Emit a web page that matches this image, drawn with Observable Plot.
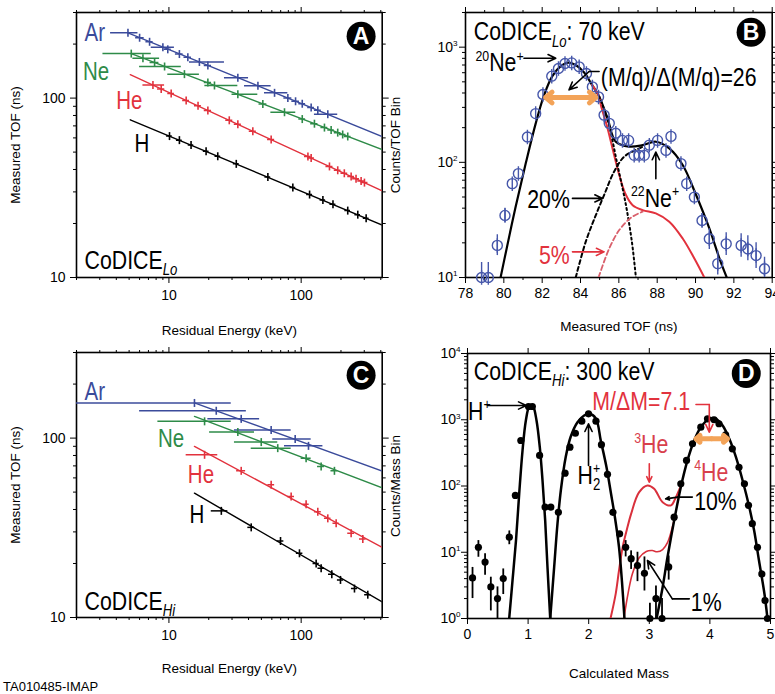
<!DOCTYPE html>
<html><head><meta charset="utf-8">
<script src="https://cdn.jsdelivr.net/npm/d3@7"></script>
<script src="https://cdn.jsdelivr.net/npm/@observablehq/plot@0.6"></script>
<style>
body{margin:0;background:#fff;}
#wrap{position:relative;width:775px;height:694px;overflow:hidden;background:#fff;}
#wrap svg{position:absolute;}
.tag{position:absolute;left:3px;top:679px;font:13px 'Liberation Sans',Arial,sans-serif;color:#000;}
</style></head><body><div id="wrap"><div class="tag">TA010485-IMAP</div></div>
<script>
const BLUE="#3b4b9b", GREEN="#2e8b48", RED="#e2323d", ORANGE="#f3a358", CIRC="#4657aa", HE="#d8404c";
const NARROW="'Liberation Sans Narrow','Arial Narrow','Liberation Sans',Arial,sans-serif";
const SANS="'Liberation Sans',Arial,Helvetica,sans-serif";

// ===== Panels A & C : TOF vs residual energy (E keV, TOF ns, Elo, Ehi)
const energyTicks=[10,100];
const energyMinor=[2,3,4,5,6,7,8,9,20,30,40,50,60,70,80,90,200,300,400];
const tofTicks=[10,100];
const tofMinor=[20,30,40,50,60,70,80,90,200,300];

const aAr=[[4.9,231,3.62,5.83],[6.0,217,5.6,6.5],[7.14,206,6.7,7.6],[9.0,192,7.35,11.0],[9.8,187,9.2,10.4],[12.0,176,11.2,12.8],[13.9,169,13.0,14.8],[17.0,159,14.3,26.3],[19.7,152,18.5,21],[33.2,130,26.3,40],[47.1,117,37.3,59.3],[62.9,107,52.8,79.3],[79.3,100,74,85],[90.7,96,85,97],[101.9,93,96,108],[119,88.6,112,126],[133.6,85.5,126,142],[159,81.3,126,189]];
const aNe=[[5.19,177,3.17,7.35],[6.36,167,5.34,8.5],[7.79,158,7.2,8.4],[9.27,150,6.0,12.4],[13.1,136,9.8,17],[19.7,122,18.5,21],[22.1,117.6,18.7,33.2],[33.2,105,30,47],[51.3,92.7,48,55],[74.8,83.4,59,91],[101.9,76.4,96,108],[126,72,118,134],[150,68.5,141,159],[168.5,66.3,159,178],[189,64.2,178,200],[206,62.7,195,218],[225,61.1,212,238]];
const aHe=[[7.57,118.2,6.36,9.27],[8.74,112.5,8.2,9.3],[10.4,106.1,9.8,11],[13.5,97,12.7,14.3],[16.6,90.6,15.6,17.6],[19.7,85.4,18.5,21],[28.6,75.2,26.9,30.4],[33.2,71.5,31.2,35.3],[43.1,65.4,40.5,45.8],[59.3,58.7,55.7,63],[112.5,47.2,106,119],[119,46.3,112,126],[163.7,41.6,154,174],[189,39.6,178,200],[212,38.1,200,225],[238.7,36.6,225,253],[260,35.5,245,276],[284,34.5,268,301],[301,33.8,284,320]];
const aH=[[10.1,61.4,9.6,10.6],[12.0,58.3,11.4,12.6],[14.7,54.7,14.0,15.4],[19.1,50.5,18.2,20.1],[23.4,47.4,22.3,24.6],[32.3,43.0,30.7,34],[56.0,36.3,53.2,58.8],[86.5,31.7,82.2,91],[115.8,29.0,110,122],[146,27.0,139,153],[174,25.6,165,183],[225,23.6,214,236],[268,22.4,255,281],[310,21.4,295,326]];
const aFitAr=[[4.9,231],[410,61.1]], aFitNe=[[5.19,177],[410,51.6]], aFitHe=[[5.1,135],[410,30.4]], aFitH=[[5.1,75.7],[410,19.6]];
const aLabels=[{t:"Ar",x:2.30,y:209,c:BLUE},{t:"Ne",x:2.24,y:126.6,c:GREEN},{t:"He",x:4.0,y:86.8,c:RED},{t:"H",x:5.5,y:49.9,c:"black"}];
const aTitle=[{t:"CoDICE_i{Lo}",x:2.30,y:11.2}];
const aLetter=[{t:"A",x:284,y:221}];

const cAr=[[15.6,157,2,29.6],[22.8,142,6.0,38.5],[35.2,128,19.7,48.5],[59.3,111,31.3,84],[90.1,99,61,119],[113.6,90.5,74.8,146]];
const cNe=[[18.6,124,8.25,29.6],[33.2,108,20.3,44.4],[49.9,95,31.3,66.5],[66.5,87.9,41.9,84],[109,77.3,100,119],[141.6,69.5,133,150],[178.5,65.7,168,189]];
const cHe=[[18.6,80.7,13.5,23.4],[35.2,65.7,32.5,38],[59.3,54.9,56,63],[84,47.2,79,89],[109,42.8,103,115],[133.6,38.9,126,142],[159,35.7,150,168],[183.9,33.5,174,194],[238.7,29.5,225,253],[292.5,27.4,276,310]];
const cH=[[24.9,39.3,20.9,27.9],[41.9,31.8,39.5,44.4],[69.8,26.7,66,74],[97.1,22.8,92,103],[129.8,20.0,123,137],[141.6,18.8,134,150],[170.5,17.4,161,180],[198.3,16.2,188,209],[253,14.5,240,267],[319,13.4,302,337]];
const cFitAr=[[15.6,157],[410,65.4]], cFitNe=[[15.6,132],[410,52.8]], cFitHe=[[15.6,89.9],[410,24.6]], cFitH=[[15.6,49.3],[410,12.2]];
const cLabels=[{t:"Ar",x:2.30,y:163.7,c:BLUE},{t:"Ne",x:8.26,y:88.7,c:GREEN},{t:"He",x:13.9,y:56.5,c:RED},{t:"H",x:14.3,y:33.8,c:"black"}];
const cTitle=[{t:"CoDICE_i{Hi}",x:2.30,y:11.0}];
const cLetter=[{t:"C",x:284,y:224}];

// ===== Panel B : counts vs measured TOF
const tofBTicks=[78,80,82,84,86,88,90,92,94];
const tofBMinor=[79,81,83,85,87,89,91,93];
const countTicksB=[10,100,1000];
const countMinorB=[20,30,40,50,60,70,80,90,200,300,400,500,600,700,800,900,2000];
const bCounts=[[78.84,10],[79.19,10],[79.66,19],[80.06,34.6],[80.44,65.3],[80.76,79.8],[81.23,166],[81.66,265],[82.04,388],[82.5,560],[82.85,653],[83.19,721],[83.54,730],[83.93,675],[84.31,590],[84.62,452],[84.94,370],[85.23,257],[85.5,218],[85.84,179],[86.19,155],[86.51,155],[86.8,115],[87.06,115],[87.33,115],[87.59,141],[88.02,155],[88.46,127],[88.72,168],[89.24,97.5],[89.54,65.3],[89.94,49.9],[90.34,31.3],[90.72,21.7],[91.16,13.2],[91.6,19.6],[92.38,19.0],[92.73,17.7],[93.16,15.5],[93.6,11.9]];
const bErr=[[78.84,9,13.5],[79.19,9,13.5],[79.66,15.5,23.5],[80.06,30,40],[90.34,27,36],[90.72,17.5,26.5],[91.16,10.5,17],[91.6,15.5,24.5],[92.38,15,24],[92.73,14,23],[93.16,12,20],[93.6,9.5,15]];
const bTotal=[[79.83,10],[80.09,16.1],[80.61,40.8],[81.14,97.5],[81.66,217],[82.1,383],[82.53,560],[83.0,690],[83.35,735],[83.75,700],[84.2,600],[84.6,470],[84.97,373],[85.41,241],[85.84,151],[86.54,137],[87.24,141],[87.93,151],[88.63,132],[89.33,94.8],[90.03,52],[90.72,26.7],[91.25,14.6],[91.63,10]];
const bRed5=[[84.6,470],[84.97,373],[85.06,315],[85.41,198],[85.67,132],[86.02,77.6],[86.37,52],[86.72,42.5],[87.24,38.5],[87.93,36],[88.63,30.5],[89.33,21.8],[89.94,14.6],[90.46,10]];
const bNe20=[[84.97,373],[85.41,235],[85.93,94.8],[86.37,42.5],[86.68,20.4],[86.89,10]];
const bNe22at20=[[83.75,10],[84.27,20.4],[84.8,34.8],[85.23,52],[85.75,83],[86.28,112],[86.89,128],[87.3,138]];
const bNe22at5=[[84.94,10],[85.5,17.9],[86.02,25.8],[86.63,33],[87.24,37.3]];
const bText=[{t:"CoDICE_i{Lo}: 70 keV",x:78.43,y:1143,c:"black"},{t:"^{20}Ne^{+}",x:78.52,y:622,c:"black"},{t:"(M/q)/Δ(M/q)=26",x:85.06,y:464,c:"black"},{t:"20%",x:81.22,y:39.8,c:"black"},{t:"^{22}Ne^{+}",x:86.63,y:41.2,c:"black"},{t:"5%",x:81.83,y:13.2,c:RED}];
const bArrows=[{x1:81.05,y1:802,x2:82.71,y2:802,c:"black"},{x1:84.45,y1:615,x2:83.4,y2:426,c:"black"},{x1:83.58,y1:48.6,x2:85.15,y2:48.6,c:"black"},{x1:87.93,y1:72,x2:87.93,y2:123,c:"black"},{x1:83.58,y1:16.7,x2:85.23,y2:16.7,c:RED}];
const bLeader=[[84.97,615],[84.45,615]];
const bWidth=[{x1:83.49,x2:82.18,y:366},{x1:83.49,x2:84.8,y:366}];
const bLetter=[{t:"B",x:92.9,y:1349}];

// ===== Panel D : counts vs calculated mass
const massTicks=[0,1,2,3,4,5];
const countTicksD=[1,10,100,1000,10000];
const countMinorD=[2,3,4,5,6,7,8,9,20,30,40,50,60,70,80,90,200,300,400,500,600,700,800,900,2000,3000,4000,5000,6000,7000,8000,9000];
const dCounts=[[0.083,4.1],[0.18,11.9],[0.29,7.1],[0.385,3.0],[0.495,2.0],[0.59,4.0],[0.69,16.9],[0.79,72],[0.88,486],[1.007,1585],[1.07,1585],[1.19,289],[1.28,48],[1.375,48],[1.5,40],[1.61,156],[1.69,385],[1.78,626],[1.886,951],[1.997,1230],[2.12,951],[2.21,420],[2.31,150],[2.4,40],[2.51,19],[2.61,11.9],[2.7,8.0],[2.805,6.3],[2.92,4.8],[3.01,1],[3.11,2.0],[3.21,1],[3.32,6.0],[3.41,33.8],[3.52,108],[3.614,243],[3.713,434],[3.85,772],[3.96,1033],[4.07,1000],[4.15,870],[4.26,590],[4.37,364],[4.48,192],[4.57,108],[4.637,51],[4.7,27],[4.785,11.9],[4.857,4.7],[4.91,1.87],[4.95,1]];
const dErr=[[0.083,2.0,5.9],[0.18,8.4,15],[0.29,4.5,9.5],[0.385,1.3,4.2],[0.495,0.9,3.0],[0.59,2.3,5.6],[0.69,13,21],[2.61,8.5,15],[2.7,5.5,10.5],[2.805,3.6,10],[2.92,2.6,8.5],[3.01,0.9,1.7],[3.11,0.9,3.1],[3.21,0.9,2.0],[3.32,3.8,8.8]];
const dH=[[0.688,1],[0.743,3.75],[0.8,15],[0.853,76],[0.908,343],[0.963,975],[1.018,1600],[1.05,1650],[1.084,1585],[1.139,975],[1.193,385],[1.238,121],[1.282,30],[1.32,5.95],[1.365,1]];
const dH2=[[1.365,1],[1.43,5.95],[1.485,27],[1.54,85.6],[1.62,272],[1.7,545],[1.815,918],[1.925,1159],[2.008,1230],[2.117,1050],[2.2,480],[2.29,200],[2.37,75],[2.43,35],[2.5,12],[2.55,3.5],[2.59,1]];
const dHe4=[[3.12,1],[3.22,2.97],[3.3,8.4],[3.41,30],[3.52,96],[3.63,243],[3.74,486],[3.85,772],[3.99,1033],[4.1,1033],[4.21,819],[4.32,515],[4.43,272],[4.54,121],[4.65,48],[4.73,21.3],[4.81,7.5],[4.9,2.36],[4.95,1]];
const dHe3at10=[[2.36,1],[2.447,2.4],[2.5,5.3],[2.56,11.9],[2.63,22],[2.7,38],[2.83,80],[2.97,102],[3.08,91],[3.22,57],[3.36,51],[3.42,62],[3.52,100]];
const dHe3at1=[[2.58,1],[2.65,2.4],[2.72,4.7],[2.83,8.2],[2.95,10.3],[3.05,10.6],[3.13,10.2],[3.22,11],[3.3,14],[3.37,22],[3.41,31]];
const dText=[{t:"CoDICE_i{Hi}: 300 keV",x:0.104,y:3954,c:"black"},{t:"H^{+}",x:0.01,y:1000,c:"black"},{t:"H_{2}^<{+}",x:1.815,y:108,c:"black"},{t:"M/ΔM=7.1",x:2.06,y:1393,c:RED},{t:"^{3}He",x:2.75,y:313,c:HE},{t:"^{4}He",x:3.74,y:121,c:HE},{t:"10%",x:3.74,y:42.7,c:"black"},{t:"1%",x:3.685,y:1.32,c:"black"}];
const dArrows=[{x1:0.33,y1:1641,x2:0.97,y2:1641,c:"black"},{x1:1.997,y1:204,x2:1.997,y2:869,c:"black"},{x1:3.99,y1:1700,x2:3.99,y2:649,c:RED},{x1:3.0,y1:216,x2:3.0,y2:114,c:RED},{x1:3.47,y1:68,x2:3.27,y2:64,c:"black"},{x1:3.38,y1:1.98,x2:2.97,y2:7.5,c:"black"}];
const dLeaders=[{p:[[3.77,1700],[3.99,1700]],c:RED},{p:[[3.71,68],[3.47,68]],c:"black"},{p:[[3.66,1.98],[3.38,1.98]],c:"black"}];
const dWidth=[{x1:4.03,x2:3.77,y:515},{x1:4.03,x2:4.29,y:515}];
const dLetter=[{t:"D",x:4.6,y:4990}];

// ===== helpers
const STYLE={fontFamily:SANS,fontSize:"14px",background:"none",overflow:"visible",color:"black"};
const vtick={draw(ctx,size){const r=Math.sqrt(size/Math.PI);ctx.moveTo(0,-r);ctx.lineTo(0,r);}};
const phi={draw(ctx,size){const r=Math.sqrt(size/Math.PI);ctx.moveTo(r,0);ctx.arc(0,0,r,0,2*Math.PI);ctx.moveTo(0,-r*1.45);ctx.lineTo(0,r*1.45);}};
const xy={x:d=>d[0],y:d=>d[1]};
const none=()=>"";
const pow10=d=>"10^{"+Math.round(Math.log10(d))+"}";

function frameAxes(xMaj,xMin,yMaj,yMin,xFmt,yFmt,xPad,yPad){
  const o={label:null,fontSize:14};
  const m=[
    Plot.axisX(xMaj,{anchor:"bottom",tickSize:6,tickPadding:xPad,tickFormat:xFmt,...o}),
    Plot.axisX(xMaj,{anchor:"top",tickSize:6,tickFormat:none,...o}),
    Plot.axisY(yMaj,{anchor:"left",tickSize:6,tickPadding:yPad,tickFormat:yFmt,...o}),
    Plot.axisY(yMaj,{anchor:"right",tickSize:6,tickFormat:none,...o}),
    Plot.axisY(yMin,{anchor:"left",tickSize:3,tickFormat:none,...o}),
    Plot.axisY(yMin,{anchor:"right",tickSize:3,tickFormat:none,...o})
  ];
  if(xMin.length){m.push(Plot.axisX(xMin,{anchor:"bottom",tickSize:3,tickFormat:none,...o}),Plot.axisX(xMin,{anchor:"top",tickSize:3,tickFormat:none,...o}));}
  m.push(Plot.frame({strokeWidth:1.6}));
  return m;
}
function species(rows,fit,color){
  const r=rows.map(([e,t,lo,hi])=>({e,t,lo,hi}));
  return [
    Plot.line(fit,{...xy,stroke:color,strokeWidth:1.4,clip:true}),
    Plot.ruleY(r,{y:"t",x1:"lo",x2:"hi",stroke:color,strokeWidth:1.5,clip:true}),
    Plot.dot(r,{x:"e",y:"t",r:4,symbol:vtick,stroke:color,fill:"none",strokeWidth:1.6})
  ];
}
function letter(d){
  return [Plot.dot(d,{x:"x",y:"y",r:14.5,fill:"black"}),
          Plot.text(d,{x:"x",y:"y",text:"t",fill:"white",fontSize:23,fontFamily:SANS,fontWeight:"bold"})];
}
function bigText(d,size){
  return Plot.text(d,{x:"x",y:"y",text:"t",fill:d=>d.c||"black",fontSize:size,fontFamily:NARROW,textAnchor:"start",lineAnchor:"bottom"});
}
function titles(xt,yt,xdy,ydx){
  return [Plot.text([xt],{frameAnchor:"bottom",dy:xdy,fontSize:13.5,fontFamily:SANS,lineAnchor:"middle",textAnchor:"middle"}),
          Plot.text([yt],{frameAnchor:"left",dx:ydx,rotate:-90,fontSize:13.5,fontFamily:SANS,lineAnchor:"middle",textAnchor:"middle"})];
}
function richify(svg){
  svg.querySelectorAll("text").forEach(el=>{
    const s=el.textContent;
    if(!/(\^<?|_i?)\{/.test(s))return;
    const F=parseFloat(getComputedStyle(el).fontSize)||14;
    const re=/(\^<|\^|_i|_)\{([^}]*)\}/g;const segs=[];let last=0,m;
    while((m=re.exec(s))){if(m.index>last)segs.push({t:s.slice(last,m.index),k:""});segs.push({t:m[2],k:m[1]});last=re.lastIndex;}
    if(last<s.length)segs.push({t:s.slice(last),k:""});
    while(el.firstChild)el.removeChild(el.firstChild);
    let shift=0,prevW=0;
    for(const g of segs){
      const ts=document.createElementNS("http://www.w3.org/2000/svg","tspan");
      let sh=0,size=F;
      if(g.k.startsWith("^")){sh=-0.4*F;size=0.58*F;}
      else if(g.k.startsWith("_")){sh=0.24*F;size=0.62*F;}
      if(g.k==="_i")ts.setAttribute("font-style","italic");
      ts.setAttribute("font-size",size);
      ts.setAttribute("dy",sh-shift);
      if(g.k==="^<")ts.setAttribute("dx",-prevW);
      shift=sh;ts.textContent=g.t;el.appendChild(ts);
      prevW=g.k.startsWith("_")?ts.getComputedTextLength():0;
    }
  });
}
// condense the big annotation texts (Helvetica-Narrow look)
function condense(svg){
  svg.querySelectorAll("text").forEach(el=>{
    if(!getComputedStyle(el).fontFamily.includes("Narrow"))return;
    const tr=el.getAttribute("transform");
    if(tr) el.setAttribute("transform",tr+" scale(0.82,1)");
    else{const x=+el.getAttribute("x")||0;el.setAttribute("transform",`translate(${x},0) scale(0.82,1) translate(${-x},0)`);}
  });
}
const wrap=document.getElementById("wrap");
function place(svg,left,top){svg.style.left=left+"px";svg.style.top=top+"px";wrap.appendChild(svg);richify(svg);condense(svg);}

// ===== Panel A
place(Plot.plot({
  width:388,height:340,marginLeft:76,marginRight:6.3,marginTop:12,marginBottom:63,
  x:{type:"log",domain:[2,410]},y:{type:"log",domain:[10,300]},color:{type:"identity"},style:STYLE,
  marks:[
    ...frameAxes(energyTicks,energyMinor,tofTicks,tofMinor,String,String,7,5),
    ...species(aAr,aFitAr,BLUE),...species(aNe,aFitNe,GREEN),...species(aHe,aFitHe,RED),...species(aH,aFitH,"black"),
    bigText(aLabels,25),bigText(aTitle,26),...letter(aLetter),
    ...titles("Residual Energy (keV)","Measured TOF (ns)",53,-61)
  ]}),0,0);

// ===== Panel C
place(Plot.plot({
  width:388,height:354,marginLeft:76,marginRight:6.3,marginTop:12,marginBottom:77,
  x:{type:"log",domain:[2,410]},y:{type:"log",domain:[10,300]},color:{type:"identity"},style:STYLE,
  marks:[
    ...frameAxes(energyTicks,energyMinor,tofTicks,tofMinor,String,String,7,5),
    ...species(cAr,cFitAr,BLUE),...species(cNe,cFitNe,GREEN),...species(cHe,cFitHe,RED),...species(cH,cFitH,"black"),
    bigText(cLabels,25),bigText(cTitle,26),...letter(cLetter),
    ...titles("Residual Energy (keV)","Measured TOF (ns)",51,-61)
  ]}),0,340);

// ===== Panel B
place(Plot.plot({
  width:388,height:340,marginLeft:78,marginRight:3.3,marginTop:12,marginBottom:63,
  x:{domain:[78,94]},y:{type:"log",domain:[10,2000]},color:{type:"identity"},style:STYLE,
  marks:[
    ...frameAxes(tofBTicks,tofBMinor,countTicksB,countMinorB,String,pow10,5,2),
    Plot.line(bTotal,{...xy,stroke:"black",strokeWidth:2.2,curve:"catmull-rom",clip:true}),
    Plot.line(bRed5,{...xy,stroke:RED,strokeWidth:2,curve:"catmull-rom",clip:true}),
    Plot.line(bNe20,{...xy,stroke:"black",strokeWidth:2,strokeDasharray:"2,3",curve:"catmull-rom",clip:true}),
    Plot.line(bNe22at20,{...xy,stroke:"black",strokeWidth:2,strokeDasharray:"4,3",curve:"catmull-rom",clip:true}),
    Plot.line(bNe22at5,{...xy,stroke:"#d9606c",strokeWidth:1.8,strokeDasharray:"5,3",curve:"catmull-rom",clip:true}),
    Plot.ruleX(bErr,{x:d=>d[0],y1:d=>d[1],y2:d=>d[2],stroke:CIRC,strokeWidth:1.4,clip:true}),
    Plot.dot(bCounts,{...xy,r:5,symbol:phi,stroke:CIRC,fill:"none",strokeWidth:1.4}),
    Plot.arrow(bWidth,{x1:"x1",x2:"x2",y1:"y",y2:"y",stroke:ORANGE,strokeWidth:5,headLength:9,headAngle:80}),
    Plot.line(bLeader,{...xy,stroke:"black",strokeWidth:1.5}),
    Plot.arrow(bArrows,{x1:"x1",y1:"y1",x2:"x2",y2:"y2",stroke:"c",strokeWidth:1.6,headLength:8,headAngle:50}),
    bigText(bText,26),...letter(bLetter),
    ...titles("Measured TOF (ns)","Counts/TOF Bin",49,-70)
  ]}),387,0);

// ===== Panel D
place(Plot.plot({
  width:388,height:354,marginLeft:80,marginRight:5,marginTop:13,marginBottom:76,
  x:{domain:[0,5]},y:{type:"log",domain:[1,10000]},color:{type:"identity"},style:STYLE,
  marks:[
    ...frameAxes(massTicks,[],countTicksD,countMinorD,String,pow10,5,1),
    Plot.line(dHe3at10,{...xy,stroke:"#d9303c",strokeWidth:2,curve:"catmull-rom",clip:true}),
    Plot.line(dHe3at1,{...xy,stroke:"#d9303c",strokeWidth:1.6,curve:"catmull-rom",clip:true}),
    Plot.line(dH,{...xy,stroke:"black",strokeWidth:2.5,curve:"catmull-rom",clip:true}),
    Plot.line(dH2,{...xy,stroke:"black",strokeWidth:2.5,curve:"catmull-rom",clip:true}),
    Plot.line(dHe4,{...xy,stroke:"black",strokeWidth:2.5,curve:"catmull-rom",clip:true}),
    Plot.ruleX(dErr,{x:d=>d[0],y1:d=>d[1],y2:d=>d[2],stroke:"black",strokeWidth:1.8,clip:true}),
    Plot.dot(dCounts,{...xy,r:3.6,fill:"black"}),
    Plot.arrow(dWidth,{x1:"x1",x2:"x2",y1:"y",y2:"y",stroke:ORANGE,strokeWidth:5,headLength:9,headAngle:80}),
    ...dLeaders.map(l=>Plot.line(l.p,{...xy,stroke:l.c,strokeWidth:1.6})),
    Plot.arrow(dArrows,{x1:"x1",y1:"y1",x2:"x2",y2:"y2",stroke:"c",strokeWidth:1.6,headLength:8,headAngle:50}),
    bigText(dText,26),...letter(dLetter),
    ...titles("Calculated Mass","Counts/Mass Bin",55,-72)
  ]}),387,340);
</script></body></html>
